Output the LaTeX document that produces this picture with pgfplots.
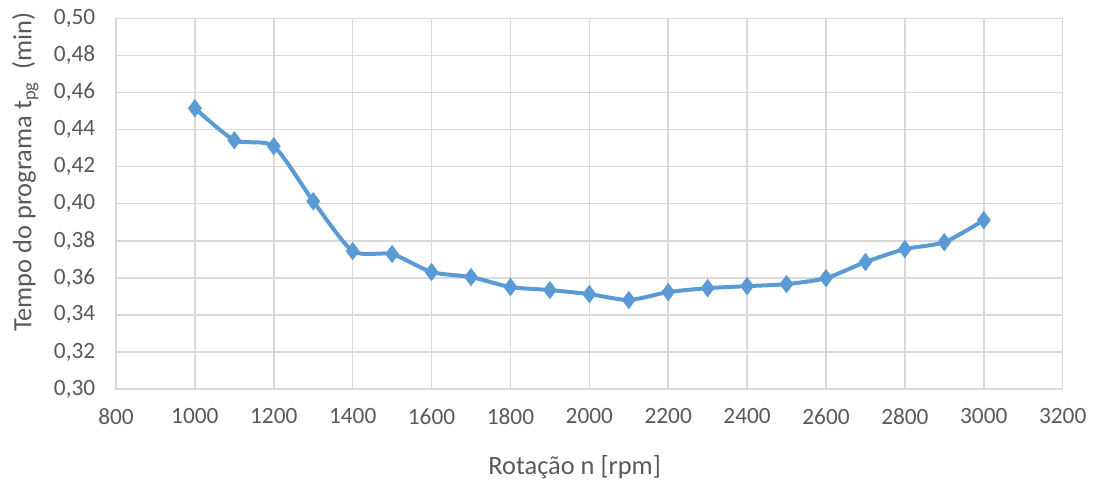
\documentclass[border=0pt]{standalone}
\usepackage{pgfplots}
\pgfplotsset{compat=1.18}
\usepackage{fontspec}
\setmainfont{Carlito}
\definecolor{ser}{HTML}{5B9BD5}
\definecolor{gridc}{HTML}{D9D9D9}
\definecolor{txt}{HTML}{595959}
\begin{document}
\begin{tikzpicture}
\path (0,0) rectangle (820.5pt,363.75pt);
\begin{axis}[
  at={(87pt,72pt)}, anchor=south west,
  scale only axis, width=710pt, height=278pt,
  xmin=800, xmax=3200, ymin=0.30, ymax=0.50,
  xtick={800,1000,...,3200},
  ytick={0.30,0.32,0.34,0.36,0.38,0.40,0.42,0.44,0.46,0.48,0.50},
  grid=major, major grid style={gridc, line width=1.2pt},
  axis line style={gridc, line width=1.2pt},
  tick style={draw=none},
  /pgf/number format/assume math mode=true,
  xticklabel style={/pgf/number format/fixed, /pgf/number format/1000 sep={}, yshift=-11pt},
  yticklabel style={/pgf/number format/fixed, /pgf/number format/fixed zerofill, /pgf/number format/precision=2, /pgf/number format/use comma, xshift=-12pt},
  scaled y ticks=false,
  ticklabel style={font=\fontsize{17.5}{21}\selectfont, text=txt},
  label style={font=\fontsize{19.8}{24}\selectfont, text=txt},
  xlabel={Rotação n [rpm]},
  ylabel={Tempo do programa t\textsubscript{pg}\ \ (min)},
  xlabel style={at={(axis description cs:0.5,0)}, anchor=center, yshift=-58.5pt, xshift=-11pt},
  ylabel style={at={(axis description cs:0,0.5)}, anchor=center, xshift=23.5pt, yshift=68pt},
]
\addplot[ser, line width=3pt, smooth, tension=0.4, mark=diamond*, mark size=6.5pt, mark options={fill=ser, draw=ser, line width=0.5pt}] coordinates {
(1000,0.4515) (1100,0.4342) (1200,0.4310) (1300,0.4013) (1400,0.3744)
(1500,0.3728) (1600,0.3631) (1700,0.3604) (1800,0.3550) (1900,0.3534)
(2000,0.3512) (2100,0.3480) (2200,0.3523) (2300,0.3544) (2400,0.3555)
(2500,0.3566) (2600,0.3598) (2700,0.3685) (2800,0.3755) (2900,0.3792)
(3000,0.3911)
};
\end{axis}
\end{tikzpicture}
\end{document}
